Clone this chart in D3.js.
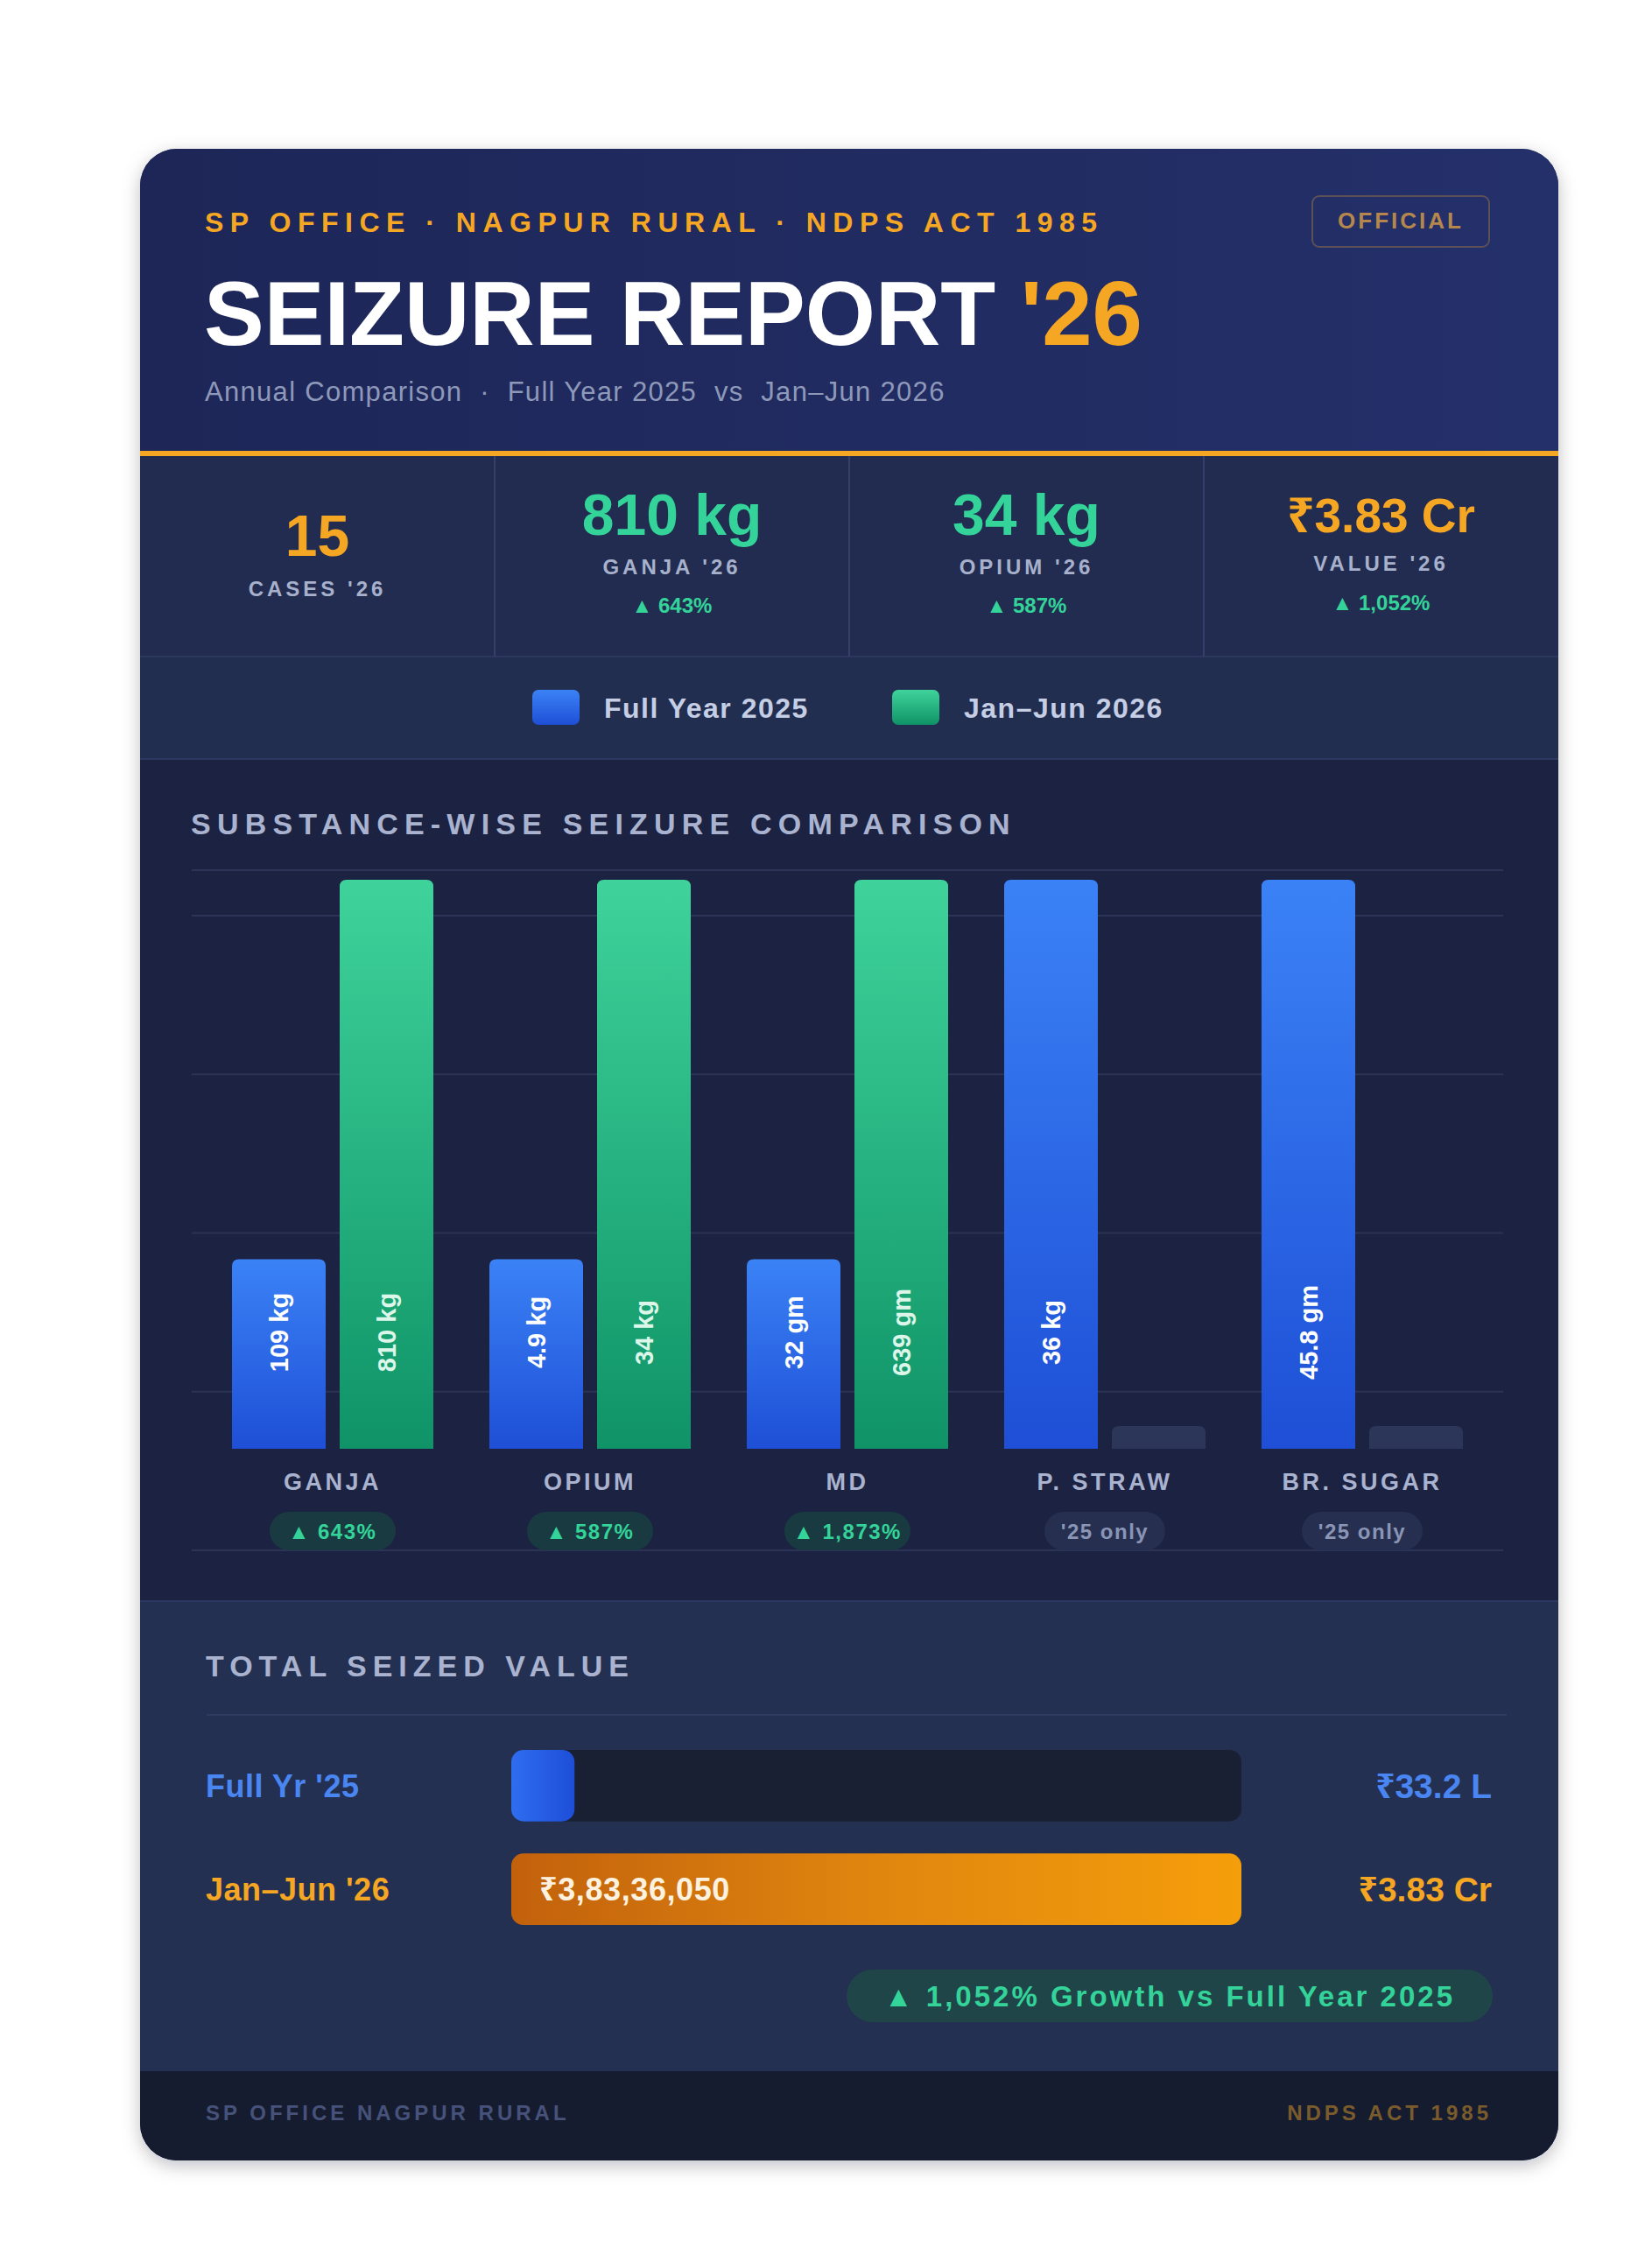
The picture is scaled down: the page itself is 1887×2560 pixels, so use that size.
<!DOCTYPE html>
<html>
<head>
<meta charset="utf-8">
<script src="https://cdn.jsdelivr.net/npm/d3@7"></script>
<style>
  body { margin: 0; background: #ffffff; }
  svg text { font-family: "Liberation Sans", "Noto Sans", "DejaVu Sans", Arial, sans-serif; white-space: pre; }
</style>
</head>
<body>
<svg id="chart"></svg>
<script>
// ---- data ----
const categories = ["GANJA", "OPIUM", "MD", "P. STRAW", "BR. SUGAR"];
const seriesKeys = ["fy25", "h126"];
const seriesNames = ["Full Year 2025", "Jan–Jun 2026"];
const fullYear2025 = [109, 4.9, 32, 36, 45.8];
const janJun2026 = [810, 34, 639, 0, 0];
const units = ["kg", "kg", "gm", "kg", "gm"];
const growthBadges = ["▲ 643%", "▲ 587%", "▲ 1,873%", "'25 only", "'25 only"];

const statValues = ["15", "810 kg", "34 kg", "₹3.83 Cr"];
const statLabels = ["CASES '26", "GANJA '26", "OPIUM '26", "VALUE '26"];
const statGrowth = ["", "▲ 643%", "▲ 587%", "▲ 1,052%"];

const valuePeriods = ["Full Yr '25", "Jan–Jun '26"];
const totalValues = [3320000, 38336050];
const totalShort = ["₹33.2 L", "₹3.83 Cr"];
const growthNote = "▲ 1,052% Growth vs Full Year 2025";

// ---- layout ----
const W = 1887, H = 2560;
const card = {x: 160, y: 170, w: 1620, h: 2298, r: 42};
const ORANGE = "#f5a623", GREEN = "#34d399";

const svg = d3.select("#chart").attr("width", W).attr("height", H);
const defs = svg.append("defs");

function grad(id, stops, horizontal) {
    const lg = defs.append("linearGradient").attr("id", id)
        .attr("x1", 0).attr("y1", 0)
        .attr("x2", horizontal ? 1 : 0).attr("y2", horizontal ? 0 : 1);
    stops.forEach((c, i) => lg.append("stop")
        .attr("offset", i / (stops.length - 1)).attr("stop-color", c));
}
grad("blueGrad", ["#3b82f6", "#1e4fd6"]);
grad("greenGrad", ["#3fd39b", "#0f9367"]);
grad("headerGrad", ["#1d2657", "#24306a"], true);
grad("orangeBar", ["#c2610c", "#e0860f", "#f59e0b"], true);
grad("blueFill", ["#2f6df0", "#1d4ed8"], true);

defs.append("clipPath").attr("id", "cardClip")
    .append("rect").attr("x", card.x).attr("y", card.y)
    .attr("width", card.w).attr("height", card.h).attr("rx", card.r);

const shadow = defs.append("filter").attr("id", "shadow")
    .attr("x", -0.1).attr("y", -0.1).attr("width", 1.2).attr("height", 1.2);
shadow.append("feDropShadow").attr("dx", 0).attr("dy", 6)
    .attr("stdDeviation", 10).attr("flood-color", "#0b1024").attr("flood-opacity", 0.25);

svg.append("rect").attr("x", card.x).attr("y", card.y)
    .attr("width", card.w).attr("height", card.h).attr("rx", card.r)
    .attr("fill", "#1b2240").attr("filter", "url(#shadow)");

const g = svg.append("g").attr("clip-path", "url(#cardClip)");

// section backgrounds
const sections = [
    {y: 170, h: 345, fill: "url(#headerGrad)"},
    {y: 521, h: 229, fill: "#212c50"},
    {y: 750, h: 117, fill: "#222e4f"},
    {y: 867, h: 962, fill: "#1c2241"},
    {y: 1829, h: 537, fill: "#243052"},
    {y: 2366, h: 110, fill: "#161c30"}
];
g.selectAll("rect.section").data(sections).join("rect")
    .attr("class", "section")
    .attr("x", card.x).attr("width", card.w)
    .attr("y", d => d.y).attr("height", d => d.h)
    .attr("fill", d => d.fill);

// thin borders between sections
[750, 867, 1829].forEach(y => g.append("line")
    .attr("x1", card.x).attr("x2", card.x + card.w)
    .attr("y1", y).attr("y2", y)
    .attr("stroke", "#2c3860").attr("stroke-width", 2));

// orange rule
g.append("rect").attr("x", card.x).attr("width", card.w)
    .attr("y", 515).attr("height", 6).attr("fill", ORANGE);

// ---- header ----
g.append("text").attr("x", 234).attr("y", 265)
    .attr("font-size", 32).attr("font-weight", 700)
    .attr("letter-spacing", 7.5).attr("fill", ORANGE)
    .text("SP OFFICE · NAGPUR RURAL · NDPS ACT 1985");

g.append("rect").attr("x", 1499).attr("y", 224)
    .attr("width", 202).attr("height", 58).attr("rx", 8)
    .attr("fill", "none").attr("stroke", "#5d5058").attr("stroke-width", 2);
g.append("text").attr("x", 1600).attr("y", 261)
    .attr("text-anchor", "middle")
    .attr("font-size", 26).attr("font-weight", 700)
    .attr("letter-spacing", 3).attr("fill", "#b5874c")
    .text("OFFICIAL");

const title = g.append("text").attr("x", 233).attr("y", 394)
    .attr("font-size", 103).attr("font-weight", 700).attr("fill", "#ffffff");
title.append("tspan").text("SEIZURE REPORT ");
title.append("tspan").attr("fill", ORANGE).text("'26");

g.append("text").attr("x", 234).attr("y", 458)
    .attr("font-size", 31).attr("letter-spacing", 1.3).attr("fill", "#8e99ba")
    .text("Annual Comparison  ·  Full Year 2025  vs  Jan–Jun 2026");

// ---- stats row ----
const statX = d3.scaleBand().domain(d3.range(statValues.length))
    .range([card.x, card.x + card.w]);
const statColors = [ORANGE, GREEN, GREEN, ORANGE];
const statSizes = [66, 66, 66, 55];

statX.domain().slice(1).forEach(i => g.append("line")
    .attr("x1", statX(i)).attr("x2", statX(i))
    .attr("y1", 521).attr("y2", 750)
    .attr("stroke", "#34406a").attr("stroke-width", 2));

const cells = g.selectAll("g.stat").data(statValues).join("g")
    .attr("class", "stat")
    .attr("transform", (d, i) => `translate(${statX(i) + statX.bandwidth() / 2},0)`);
cells.append("text")
    .attr("y", (d, i) => !statGrowth[i] ? 635 : i === 3 ? 608 : 611)
    .attr("text-anchor", "middle")
    .attr("font-size", (d, i) => statSizes[i]).attr("font-weight", 700)
    .attr("fill", (d, i) => statColors[i])
    .text(d => d);
cells.append("text")
    .attr("y", (d, i) => !statGrowth[i] ? 681 : i === 3 ? 652 : 656)
    .attr("text-anchor", "middle")
    .attr("font-size", 24).attr("font-weight", 700)
    .attr("letter-spacing", 4).attr("fill", "#a7b1cc")
    .text((d, i) => statLabels[i]);
cells.append("text")
    .attr("y", (d, i) => i === 3 ? 697 : 700)
    .attr("text-anchor", "middle")
    .attr("font-size", 24).attr("font-weight", 700)
    .attr("fill", GREEN)
    .text((d, i) => statGrowth[i]);

// ---- legend ----
const legendX = d3.scalePoint().domain(seriesNames).range([608, 1019]);
const legend = g.selectAll("g.legend").data(seriesNames).join("g")
    .attr("class", "legend")
    .attr("transform", d => `translate(${legendX(d)},788)`);
legend.append("rect").attr("width", 54).attr("height", 40).attr("rx", 7)
    .attr("fill", (d, i) => i === 0 ? "url(#blueGrad)" : "url(#greenGrad)");
legend.append("text").attr("x", 82).attr("y", 32)
    .attr("font-size", 32).attr("font-weight", 700)
    .attr("letter-spacing", 1.5).attr("fill", "#c6cee6")
    .text(d => d);

// ---- bar chart ----
g.append("text").attr("x", 218).attr("y", 953)
    .attr("font-size", 34).attr("font-weight", 700)
    .attr("letter-spacing", 7.2).attr("fill", "#a9b3cf")
    .text("SUBSTANCE-WISE SEIZURE COMPARISON");

const plotLeft = 219, plotRight = 1717;
const baseY = 1655, topY = 1005;

g.append("line").attr("x1", plotLeft).attr("x2", plotRight)
    .attr("y1", 994).attr("y2", 994)
    .attr("stroke", "#2b3456").attr("stroke-width", 2);

const gridY = d3.scaleLinear().domain([0, 4]).range([1771, 1046]);
g.selectAll("line.grid").data(gridY.ticks(4)).join("line")
    .attr("class", "grid")
    .attr("x1", plotLeft).attr("x2", plotRight)
    .attr("y1", d => gridY(d)).attr("y2", d => gridY(d))
    .attr("stroke", "#2b3456").attr("stroke-width", 2);

const x0 = d3.scaleBand().domain(categories).range([233, 1703]);
const pairWidth = 230;
const x1 = d3.scaleBand().domain(seriesKeys).range([0, pairWidth]).paddingInner(0.13);
// each substance is scaled against its own larger value; small values keep a readable minimum
const y = d3.scaleLinear().domain([0, 1]).range([baseY, topY]);
const MIN_SHARE = 0.333, STUB_SHARE = 0.04;

const rows = categories.map((c, i) => {
    const max = Math.max(fullYear2025[i], janJun2026[i]);
    return seriesKeys.map((k, j) => {
        const v = j === 0 ? fullYear2025[i] : janJun2026[i];
        const share = v === 0 ? STUB_SHARE : Math.max(v / max, MIN_SHARE);
        return {cat: c, key: k, value: v, unit: units[i], share};
    });
});

function topRounded(x, yTop, w, h, r) {
    r = Math.min(r, h / 2, w / 2);
    return `M${x},${yTop + h}V${yTop + r}Q${x},${yTop} ${x + r},${yTop}` +
        `H${x + w - r}Q${x + w},${yTop} ${x + w},${yTop + r}V${yTop + h}Z`;
}

const groups = g.selectAll("g.group").data(rows).join("g")
    .attr("class", "group")
    .attr("transform", (d, i) => `translate(${x0(categories[i]) + (x0.bandwidth() - pairWidth) / 2},0)`);

groups.selectAll("path.bar").data(d => d).join("path")
    .attr("class", "bar")
    .attr("d", d => topRounded(x1(d.key), y(d.share), x1.bandwidth(), baseY - y(d.share), 8))
    .attr("fill", d => d.value === 0 ? "#2c3659"
        : d.key === "fy25" ? "url(#blueGrad)" : "url(#greenGrad)");

groups.selectAll("text.val").data(d => d.filter(v => v.value > 0)).join("text")
    .attr("class", "val")
    .attr("transform", d => `translate(${x1(d.key) + x1.bandwidth() / 2},${baseY - 133}) rotate(-90)`)
    .attr("text-anchor", "middle").attr("dy", "0.35em")
    .attr("font-size", 29).attr("font-weight", 700)
    .attr("fill", d => d.key === "fy25" ? "#ffffff" : "#dcf7e9")
    .text(d => `${d.value} ${d.unit}`);

const catG = g.selectAll("g.cat").data(categories).join("g")
    .attr("class", "cat")
    .attr("transform", d => `translate(${x0(d) + x0.bandwidth() / 2},0)`);
catG.append("text").attr("y", 1702)
    .attr("text-anchor", "middle")
    .attr("font-size", 27).attr("font-weight", 700)
    .attr("letter-spacing", 3.5).attr("fill", "#a9b3cf")
    .text(d => d);
catG.append("rect")
    .attr("x", (d, i) => growthBadges[i].startsWith("▲") ? -72 : -69)
    .attr("width", (d, i) => growthBadges[i].startsWith("▲") ? 144 : 138)
    .attr("y", 1727).attr("height", 44).attr("rx", 22)
    .attr("fill", (d, i) => growthBadges[i].startsWith("▲") ? "#193a41" : "#262f50");
catG.append("text").attr("y", 1758)
    .attr("text-anchor", "middle")
    .attr("font-size", 24).attr("font-weight", 700).attr("letter-spacing", 1.5)
    .attr("fill", (d, i) => growthBadges[i].startsWith("▲") ? GREEN : "#8a95b6")
    .text((d, i) => growthBadges[i]);

// ---- total seized value ----
g.append("text").attr("x", 235).attr("y", 1915)
    .attr("font-size", 34).attr("font-weight", 700)
    .attr("letter-spacing", 7).attr("fill", "#a9b3cf")
    .text("TOTAL SEIZED VALUE");
g.append("line").attr("x1", 236).attr("x2", 1721)
    .attr("y1", 1959).attr("y2", 1959)
    .attr("stroke", "#2f3b60").attr("stroke-width", 2);

const vx = d3.scaleLinear().domain([0, d3.max(totalValues)]).range([584, 1418]);
const vy = d3.scaleBand().domain(valuePeriods).range([1999, 2199]).paddingInner(0.31);
const periodColors = ["#4a86f2", ORANGE];

function inr(v) {
    const s = String(Math.round(v));
    const last3 = s.slice(-3), rest = s.slice(0, -3);
    return "₹" + (rest ? rest.replace(/\B(?=(\d{2})+(?!\d))/g, ",") + "," : "") + last3;
}

const vrow = g.selectAll("g.vrow").data(valuePeriods).join("g")
    .attr("class", "vrow")
    .attr("transform", d => `translate(0,${vy(d)})`);
vrow.filter((d, i) => i === 0).append("rect")
    .attr("x", vx(0)).attr("width", vx.range()[1] - vx(0))
    .attr("height", vy.bandwidth()).attr("rx", 14)
    .attr("fill", "#1a2033");
vrow.append("rect")
    .attr("x", vx(0))
    .attr("width", (d, i) => vx(totalValues[i]) - vx(0))
    .attr("height", vy.bandwidth()).attr("rx", 14)
    .attr("fill", (d, i) => i === 0 ? "url(#blueFill)" : "url(#orangeBar)");
vrow.filter((d, i) => i === 1).append("text")
    .attr("x", vx(0) + 32).attr("y", vy.bandwidth() / 2).attr("dy", "0.36em")
    .attr("font-size", 36).attr("font-weight", 700).attr("letter-spacing", 0.6)
    .attr("fill", "#fdf1df")
    .text(inr(totalValues[1]));
vrow.append("text")
    .attr("x", 235).attr("y", vy.bandwidth() / 2).attr("dy", "0.36em")
    .attr("font-size", 36).attr("font-weight", 700).attr("letter-spacing", 0.5)
    .attr("fill", (d, i) => periodColors[i])
    .text(d => d);
vrow.append("text")
    .attr("x", 1704).attr("y", vy.bandwidth() / 2).attr("dy", "0.36em")
    .attr("text-anchor", "end")
    .attr("font-size", 39).attr("font-weight", 700)
    .attr("fill", (d, i) => periodColors[i])
    .text((d, i) => totalShort[i]);

g.append("rect").attr("x", 967).attr("y", 2250)
    .attr("width", 738).attr("height", 60).attr("rx", 30)
    .attr("fill", "#1f4549");
g.append("text").attr("x", 1336).attr("y", 2292)
    .attr("text-anchor", "middle")
    .attr("font-size", 33).attr("font-weight", 700).attr("letter-spacing", 3)
    .attr("fill", GREEN)
    .text(growthNote);

// ---- footer ----
g.append("text").attr("x", 235).attr("y", 2422)
    .attr("font-size", 24).attr("font-weight", 700)
    .attr("letter-spacing", 4).attr("fill", "#47527a")
    .text("SP OFFICE NAGPUR RURAL");
g.append("text").attr("x", 1704).attr("y", 2422)
    .attr("text-anchor", "end")
    .attr("font-size", 24).attr("font-weight", 700)
    .attr("letter-spacing", 4).attr("fill", "#7a5b2c")
    .text("NDPS ACT 1985");
</script>
</body>
</html>
